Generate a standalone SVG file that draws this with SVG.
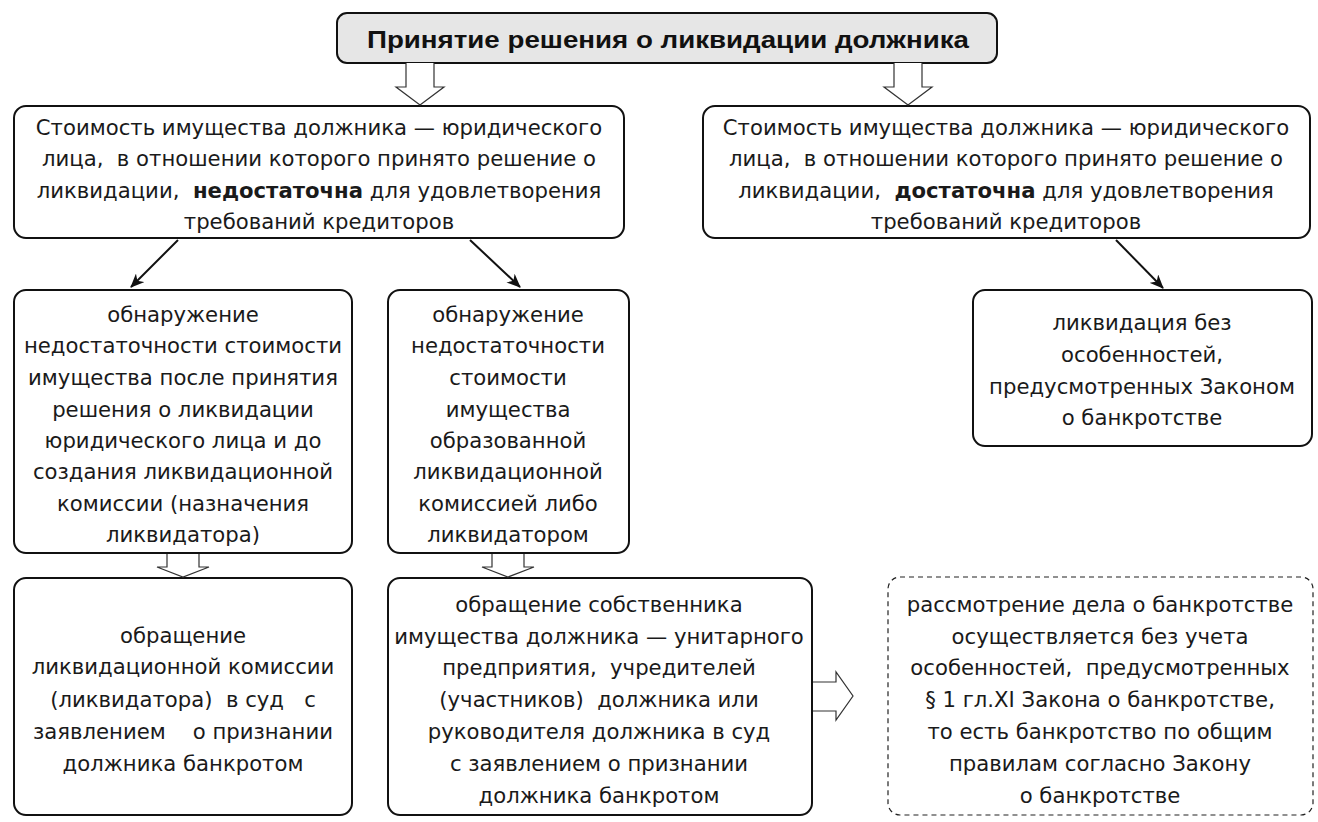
<svg xmlns="http://www.w3.org/2000/svg" width="1318" height="822" viewBox="0 0 1318 822">
<style>
.box{fill:#fff;stroke:#111;stroke-width:2}
.dash{fill:#fff;stroke:#222;stroke-width:1.2;stroke-dasharray:5 4}
.t{font-family:"DejaVu Sans","Liberation Sans",sans-serif;font-size:21.2px;fill:#1a1a1a;text-anchor:middle}
.b{font-weight:bold}
.title{font-family:"Liberation Sans","DejaVu Sans",sans-serif;font-size:24px;font-weight:bold;fill:#111;text-anchor:middle}
.hollow{fill:#fff;stroke:#333;stroke-width:1.2}
.conn{stroke:#111;stroke-width:2;fill:none}
</style>
<defs>
<marker id="ah" markerWidth="14" markerHeight="12" refX="13" refY="6" orient="auto" markerUnits="userSpaceOnUse">
<path d="M0,0 L14,6 L0,12 L4,6 Z" fill="#111"/>
</marker>
</defs>
<rect width="1318" height="822" fill="#fff"/>

<g id="top">
<rect x="337" y="13" width="660" height="50" rx="10" fill="#e6e6e6" stroke="#111" stroke-width="2"/>
<text class="title" x="668" y="48" textLength="602" lengthAdjust="spacingAndGlyphs">Принятие решения о ликвидации должника</text>
</g>

<g id="insufficient">
<rect class="box" x="14" y="106" width="610" height="132" rx="12"/>
<text class="t" x="319" y="135">Стоимость имущества должника — юридического</text>
<text class="t" x="319" y="166" xml:space="preserve">лица,  в отношении которого принято решение о</text>
<text class="t" x="319" y="198" xml:space="preserve">ликвидации,  <tspan class="b">недостаточна</tspan> для удовлетворения</text>
<text class="t" x="319" y="229">требований кредиторов</text>
</g>

<g id="sufficient">
<rect class="box" x="703" y="106" width="607" height="132" rx="12"/>
<text class="t" x="1006" y="135">Стоимость имущества должника — юридического</text>
<text class="t" x="1006" y="166" xml:space="preserve">лица,  в отношении которого принято решение о</text>
<text class="t" x="1006" y="198" xml:space="preserve">ликвидации,  <tspan class="b">достаточна</tspan> для удовлетворения</text>
<text class="t" x="1006" y="229">требований кредиторов</text>
</g>

<g id="detect-before">
<rect class="box" x="14" y="290" width="338" height="263" rx="12"/>
<text class="t" x="183" y="322">обнаружение</text>
<text class="t" x="183" y="353">недостаточности стоимости</text>
<text class="t" x="183" y="385">имущества после принятия</text>
<text class="t" x="183" y="417">решения о ликвидации</text>
<text class="t" x="183" y="448">юридического лица и до</text>
<text class="t" x="183" y="479">создания ликвидационной</text>
<text class="t" x="183" y="511">комиссии (назначения</text>
<text class="t" x="183" y="542">ликвидатора)</text>
</g>

<g id="detect-after">
<rect class="box" x="388" y="290" width="241" height="263" rx="12"/>
<text class="t" x="508" y="322">обнаружение</text>
<text class="t" x="508" y="353">недостаточности</text>
<text class="t" x="508" y="385">стоимости</text>
<text class="t" x="508" y="417">имущества</text>
<text class="t" x="508" y="448">образованной</text>
<text class="t" x="508" y="479">ликвидационной</text>
<text class="t" x="508" y="511">комиссией либо</text>
<text class="t" x="508" y="542">ликвидатором</text>
</g>

<g id="plain-liquidation">
<rect class="box" x="973" y="290" width="339" height="156" rx="12"/>
<text class="t" x="1142" y="330">ликвидация без</text>
<text class="t" x="1142" y="362">особенностей,</text>
<text class="t" x="1142" y="394">предусмотренных Законом</text>
<text class="t" x="1142" y="425">о банкротстве</text>
</g>

<g id="commission-appeal">
<rect class="box" x="14" y="578" width="338" height="237" rx="12"/>
<text class="t" x="183" y="643">обращение</text>
<text class="t" x="183" y="674">ликвидационной комиссии</text>
<text class="t" x="183" y="707" xml:space="preserve">(ликвидатора)  в суд   с</text>
<text class="t" x="183" y="739" xml:space="preserve">заявлением    о признании</text>
<text class="t" x="183" y="771">должника банкротом</text>
</g>

<g id="owner-appeal">
<rect class="box" x="388" y="578" width="424" height="237" rx="12"/>
<text class="t" x="599" y="612">обращение собственника</text>
<text class="t" x="599" y="644">имущества должника — унитарного</text>
<text class="t" x="599" y="675" xml:space="preserve">предприятия,  учредителей</text>
<text class="t" x="599" y="707" xml:space="preserve">(участников)  должника или</text>
<text class="t" x="599" y="739">руководителя должника в суд</text>
<text class="t" x="599" y="771">с заявлением о признании</text>
<text class="t" x="599" y="803">должника банкротом</text>
</g>

<g id="general-bankruptcy">
<rect class="dash" x="888" y="577" width="425" height="238" rx="12"/>
<text class="t" x="1100" y="612">рассмотрение дела о банкротстве</text>
<text class="t" x="1100" y="644">осуществляется без учета</text>
<text class="t" x="1100" y="675" xml:space="preserve">особенностей,  предусмотренных</text>
<text class="t" x="1100" y="707">§ 1 гл.XI Закона о банкротстве,</text>
<text class="t" x="1100" y="739">то есть банкротство по общим</text>
<text class="t" x="1100" y="771">правилам согласно Закону</text>
<text class="t" x="1100" y="803">о банкротстве</text>
</g>

<g id="connectors">
<path class="hollow" d="M406,63 V87 H396 L420,105 L444,87 H434 V63"/>
<path class="hollow" d="M894,63 V87 H884 L908,105 L932,87 H922 V63"/>
<path class="hollow" d="M167,554 V567 H157 L183,577 L209,567 H199 V554"/>
<path class="hollow" d="M492,554 V567 H482 L508,577 L534,567 H524 V554"/>
<path class="hollow" d="M813,682 H836 V672 L853,696 L836,720 V711 H813"/>
<line class="conn" x1="178" y1="240" x2="131" y2="287" marker-end="url(#ah)"/>
<line class="conn" x1="470" y1="240" x2="520" y2="287" marker-end="url(#ah)"/>
<line class="conn" x1="1116" y1="240" x2="1163" y2="288" marker-end="url(#ah)"/>
</g>
</svg>
